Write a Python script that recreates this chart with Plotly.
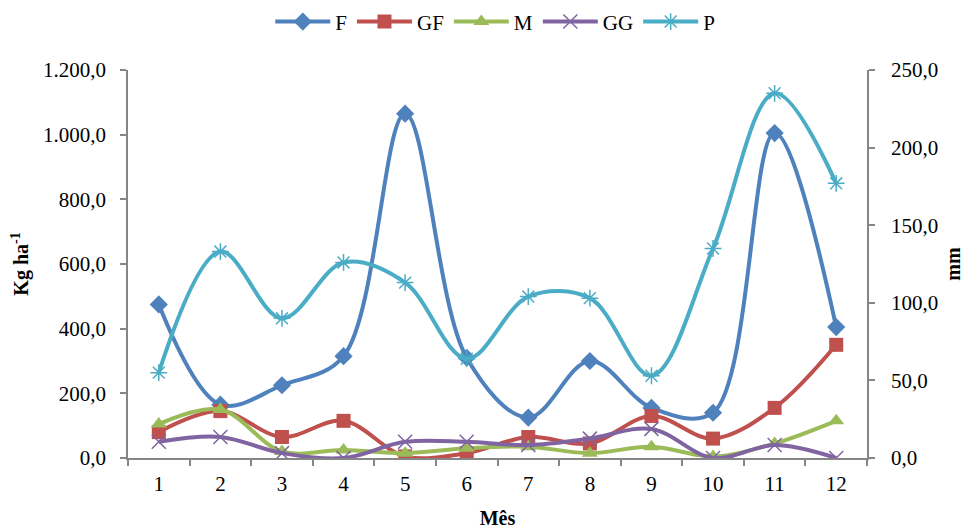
import plotly.graph_objects as go

months = ["1", "2", "3", "4", "5", "6", "7", "8", "9", "10", "11", "12"]
F = [475, 165, 225, 315, 1065, 310, 125, 300, 155, 140, 1005, 405]
GF = [80, 145, 65, 115, 5, 15, 65, 45, 130, 60, 155, 350]
M = [105, 150, 20, 25, 15, 30, 35, 15, 35, 5, 45, 115]
GG = [50, 65, 15, 0, 50, 50, 40, 60, 90, 0, 40, 0]
P = [55, 133, 90, 126, 113, 64, 104, 103, 53, 135, 235, 177]

FONT = "Liberation Serif"
AXC = "#868686"

fig = go.Figure()

def add(name, y, color, symbol, size, yaxis="y", open_marker=False):
    marker = dict(symbol=symbol, size=size, color=color)
    if open_marker:
        marker["line"] = dict(color=color, width=1.5)
    fig.add_trace(go.Scatter(
        x=months, y=y, name=name, mode="lines+markers", yaxis=yaxis,
        line=dict(color=color, width=4, shape="spline", smoothing=1.0),
        marker=marker,
    ))

add("F", F, "#4F81BD", "diamond", 14)
add("GF", GF, "#C0504D", "square", 14)
add("M", M, "#9BBB59", "triangle-up", 14)
add("GG", GG, "#8064A2", "x-thin-open", 14, open_marker=True)
add("P", P, "#4BACC6", "asterisk-open", 14, yaxis="y2", open_marker=True)

fig.update_layout(
    width=970, height=530,
    margin=dict(l=120, r=111, t=62, b=80, autoexpand=False),
    paper_bgcolor="white", plot_bgcolor="white",
    separators=",.",
    font=dict(family=FONT, size=21, color="#000000"),
    showlegend=True,
    legend=dict(orientation="h", x=0.497, xanchor="center", y=1.124, yanchor="middle",
                font=dict(family=FONT, size=21), itemwidth=55, tracegroupgap=0),
    xaxis=dict(
        type="category", range=[-0.5, 11.5], tickson="boundaries",
        showline=True, linecolor=AXC, linewidth=1.5,
        ticks="outside", ticklen=6, tickcolor=AXC, tickwidth=1.5,
        ticklabelstandoff=6, automargin=False,
        showgrid=False, zeroline=False,
        title=dict(text="<b>Mês</b>", font=dict(family=FONT, size=20), standoff=16),
    ),
    yaxis=dict(
        range=[0, 1200], dtick=200, tickformat=",.1f",
        showline=True, linecolor=AXC, linewidth=1.5,
        ticks="outside", ticklen=6, tickcolor=AXC, tickwidth=1.5,
        ticklabelstandoff=10, automargin=False,
        showgrid=False, zeroline=False,
        title=dict(text="<b>Kg ha<sup>-1</sup></b>", font=dict(family=FONT, size=20), standoff=10),
    ),
    yaxis2=dict(
        range=[0, 250], dtick=50, tickformat=",.1f", overlaying="y", side="right",
        showline=True, linecolor=AXC, linewidth=1.5,
        ticks="outside", ticklen=6, tickcolor=AXC, tickwidth=1.5,
        ticklabelstandoff=12, automargin=False,
        showgrid=False, zeroline=False,
        title=dict(text="<b>mm</b>", font=dict(family=FONT, size=20), standoff=9),
    ),
)

fig.write_html("out.html")
